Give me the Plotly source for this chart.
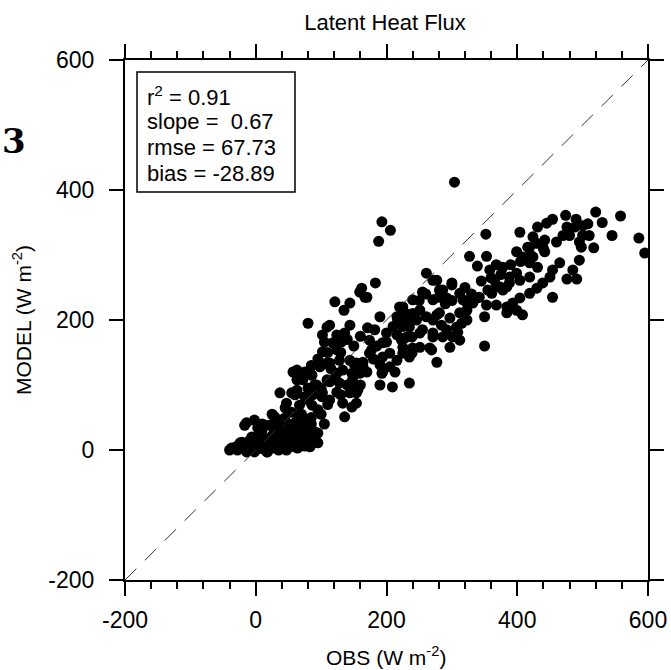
import plotly.graph_objects as go

# OBS (x) and MODEL (y) latent heat flux values, W m-2
obs = [
    404, 431, 445, 454, 474, 520, 558, 586, 595, 476, 488, 500, 508, 495, 498, 517, 495, 485, 476, 491,
    465, 454, 450, 439, 430, 419, 454, 424, 416, 399, 408, 424, 442, 430, 431, 419, 404, 388, 378, 384,
    404, 384, 399, 408, 352, 327, 339, 353, 261, 271, 300, 255, 281, 312, 240, 225, 271, 292, 323, 339,
    355, 368, 378, 388, 399, 353, 368, 393, 384, 350, 251, 261, 246, 231, 277, 297, 284, 315, 309, 255,
    271, 286, 231, 312, 225, 240, 266, 297, 350, 277, 235, 368, 358, 373, 365, 361, 317, 332, 342, 300,
    286, 277, 281, 269, 271, 323, 442, 419, 419, 312, 323, 307, 292, 239, 223, 235, 271, 217,
    304, 193, 206, 188, 183, 162, 167, 144, 135, 121, 220, 159, 170, 228, 216, 80, 113, 144, 171, 182,
    102, 124, 136, 216, 228, 105, 118, 131, 174, 200, 102, 124, 177, 194, 205, 216, 225, 128, 144, 113,
    98, 154, 164, 190, 205, 193, 213, 63, 83, 124, 133, 147, 190, 209, 72, 93, 113, 128, 148, 63,
    83, 102, 124, 144, 156, 133, 154, 55, 235, 194, 239, 251, 194, 251, 301, 190,
    109, 109, 57, 72, 86, 63, 37, 87, 101, 90, 75, 101, 47, 86, 95, 29, 44, 64, -2, -14,
    14, 60, 75, -21, -37, -6, 9, 29, 49, 70, 90, 83, 95, 3, 24, 40, 60, -12, 14, 29,
    49, 64, -28, -2, 18, -17, -24, -40, 6, 37, 83, 95, -14, 17, 47, 9, 34, 21, 44, 55,
    67, 75, -9, 3, 21, 40, 55, 67, 80, 52, 14, 109, 113, 147, 136, 154, 148, 159, 151, 174, 164,
    0, 5, 10, 20, 25, 30, 35, 40, 45, 50, 55, 60, 65, 70, 75, 80, 85, 90, -10, -5,
    -20, -30, 0, 10, 30, 50, 65, 85, 100, 110, 105, 70, 45, 25, 60, 80, 100, 120, 115, 130,
    140, 160, 170, 180, 150, 130, 110, 95, 85, 75, 140, 160, 185, 200, 210, 225, 240, 250, 260, 280,
    290, 300, 320, 330, 345, 360, 375, 390, 405, 420, 440, 460, 470, 480, 490, 500, 510, 530, 545,
]
model = [
    335, 343, 349, 355, 361, 366, 360, 326, 303, 343, 343, 345, 348, 320, 312, 311, 292, 277, 263, 263,
    288, 277, 266, 257, 249, 241, 235, 328, 312, 305, 297, 297, 305, 318, 281, 266, 261, 266, 281, 251,
    234, 220, 215, 208, 332, 298, 283, 298, 272, 261, 257, 243, 246, 241, 231, 220, 231, 234, 226, 234,
    246, 251, 246, 257, 272, 223, 223, 226, 211, 205, 215, 205, 200, 200, 208, 203, 192, 195, 181, 185,
    174, 174, 174, 169, 158, 157, 157, 158, 160, 135, 143, 285, 277, 251, 261, 241, 231, 226, 235, 254,
    246, 261, 211, 154, 180, 215, 323, 288, 312, 211, 200, 189, 185, 174, 169, 189, 200, 200,
    412, 351, 338, 321, 257, 249, 235, 226, 215, 228, 220, 243, 235, 211, 205, 195, 192, 192, 188, 185,
    177, 177, 180, 177, 172, 166, 165, 166, 169, 166, 151, 154, 154, 143, 149, 138, 149, 138, 138, 134,
    128, 134, 128, 131, 128, 118, 120, 123, 118, 118, 123, 118, 100, 97, 108, 100, 105, 103, 100, 92,
    88, 88, 89, 88, 92, 72, 72, 88, 103, 120, 149, 158, 165, 180, 174, 205,
    189, 134, 120, 115, 115, 108, 88, 85, 131, 100, 82, 82, 72, 69, 62, 51, 49, 54, 46, 42,
    38, 42, 42, 12, 3, 20, 28, 31, 28, 26, 28, 5, 11, 11, 15, 11, 12, 5, 3, 3,
    3, 3, 0, -3, -3, 38, 11, 0, 26, 31, 26, 26, -3, -3, 0, 5, 6, 18, 20, 8,
    15, 6, 15, 34, 38, 46, 58, 69, 77, 35, 15, 108, 77, 66, 51, 88, 108, 118, 131, 149, 135,
    0, 8, 2, 10, 22, 15, 0, 20, 5, 15, 25, 5, 20, 10, 30, 15, 40, 18, 0, 8,
    5, 5, 18, 40, 45, 40, 35, 50, 55, 70, 40, 55, 65, 55, 85, 95, 95, 110, 125, 85,
    100, 100, 120, 140, 160, 150, 150, 140, 130, 120, 170, 175, 160, 180, 190, 190, 210, 230, 240, 235,
    225, 230, 250, 240, 260, 265, 270, 285, 290, 300, 310, 320, 330, 330, 355, 330, 330, 350, 330,
]

one_to_one = [-200, 600]
tick_vals = [-200, 0, 200, 400, 600]
stats_lines = ["r<sup>2</sup> = 0.91", "slope =  0.67", "rmse = 67.73", "bias = -28.89"]

FONT = "Liberation Sans"

fig = go.Figure()
fig.add_trace(go.Scatter(
    x=obs, y=model, mode="markers",
    marker=dict(size=11, color="black", line=dict(width=0)),
    showlegend=False, hoverinfo="skip",
))
fig.add_trace(go.Scatter(
    x=one_to_one, y=one_to_one, mode="lines",
    line=dict(color="#333333", width=1, dash="16px,12px"),
    showlegend=False, hoverinfo="skip",
))

axis_common = dict(
    range=[-200, 600], tickvals=tick_vals, ticktext=[str(v) for v in tick_vals],
    showline=True, linewidth=2, linecolor="black", mirror="allticks",
    ticks="outside", ticklen=14, tickwidth=2, tickcolor="black",
    showgrid=False, zeroline=False, automargin=False,
    tickfont=dict(family=FONT, size=23, color="black"),
)

fig.update_xaxes(**axis_common, ticklabelstandoff=4,
                 minor=dict(dtick=40, ticks="outside", ticklen=7, tickwidth=1.5, tickcolor="black"))
fig.update_yaxes(**axis_common, ticklabelstandoff=10)

fig.update_layout(
    width=671, height=670,
    margin=dict(l=125, r=23, t=60, b=90, autoexpand=False),
    paper_bgcolor="white", plot_bgcolor="white",
    title=dict(text="Latent Heat Flux", x=385 / 671, xanchor="center",
               y=1 - 22 / 670, yanchor="middle", yref="container",
               font=dict(family=FONT, size=22, color="black")),
)

# stats box
fig.add_shape(type="rect", xref="paper", yref="paper",
              x0=(137 - 125) / 523, x1=(295 - 125) / 523,
              y0=(580 - 192) / 520, y1=(580 - 72) / 520,
              line=dict(color="black", width=1.5), fillcolor="white", layer="above")
for i, txt in enumerate(stats_lines):
    ypx = 96 + i * 25.7
    fig.add_annotation(text=txt, xref="paper", yref="paper",
                       x=(145 - 125) / 523, y=(580 - ypx) / 520,
                       xanchor="left", yanchor="middle", showarrow=False,
                       font=dict(family=FONT, size=22, color="black"))

# axis titles
fig.add_annotation(text="OBS (W m<sup>-2</sup>)", xref="paper", yref="paper",
                   x=(386 - 125) / 523, y=(580 - 656) / 520, xanchor="center", yanchor="middle",
                   showarrow=False, font=dict(family=FONT, size=21, color="black"))
fig.add_annotation(text="MODEL (W m<sup>-2</sup>)", xref="paper", yref="paper",
                   x=(22 - 125) / 523, y=(580 - 320) / 520, xanchor="center", yanchor="middle",
                   textangle=-90, showarrow=False, font=dict(family=FONT, size=21, color="black"))

# panel label fragment
fig.add_annotation(text="<b>3</b>", xref="paper", yref="paper",
                   x=(14 - 125) / 523, y=(580 - 141) / 520, xanchor="center", yanchor="middle",
                   showarrow=False, font=dict(family="DejaVu Serif", size=34, color="black"))

fig.write_html("out.html")
